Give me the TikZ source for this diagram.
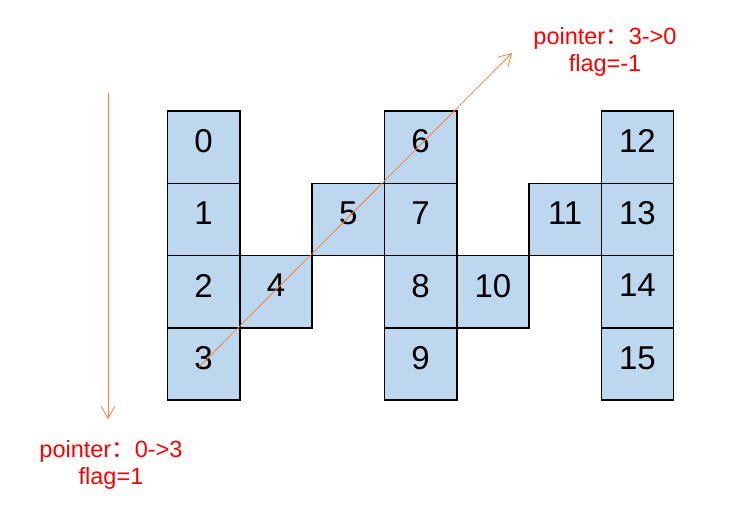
\documentclass[tikz,border=0pt]{standalone}
\usepackage{fontspec}
\setmainfont{Liberation Sans}
\newfontfamily\cjk{Noto Sans CJK SC}
\usetikzlibrary{arrows.meta}
\definecolor{cellblue}{RGB}{189,215,238}
\definecolor{arrorange}{RGB}{240,130,60}
\begin{document}
\begin{tikzpicture}[x=1pt,y=-1pt,
  cell/.style={draw=black,line width=1.6pt,fill=cellblue,minimum size=72.3pt,
    inner sep=0pt,font=\fontsize{33}{33}\selectfont,text depth=12.5pt},
  parrow/.style={draw=arrorange,line width=0.8pt,-{Straight Barb[length=12pt,width=14pt]}},
  lbl/.style={text=red,font=\fontsize{23.5}{27}\selectfont,align=center,inner sep=0pt}]
\useasboundingbox (0,0) rectangle (737,522);
\def\cw{72.3}
\foreach \n/\c/\r in {0/0/0,1/0/1,2/0/2,3/0/3,4/1/2,5/2/1,6/3/0,7/3/1,8/3/2,9/3/3,10/4/2,11/5/1,12/6/0,13/6/1,14/6/2,15/6/3}{
  \node[cell] (c\n) at ({167.5+\cw*(\c+0.5)},{111+\cw*(\r+0.5)}) {\n};
}
\coordinate (vs) at (108,93);
\coordinate (ve) at (108,419);
\draw[parrow] (vs) -- (ve);
\coordinate (ds) at (199,367);
\coordinate (de) at (512,53);
\draw[parrow] (ds) -- (de);
\node[lbl] (top) at (605,52) {pointer{\cjk ：}3->0\\flag=-1};
\node[lbl] (bot) at (111,465) {pointer{\cjk ：}0->3\\flag=1};
\end{tikzpicture}
\end{document}
